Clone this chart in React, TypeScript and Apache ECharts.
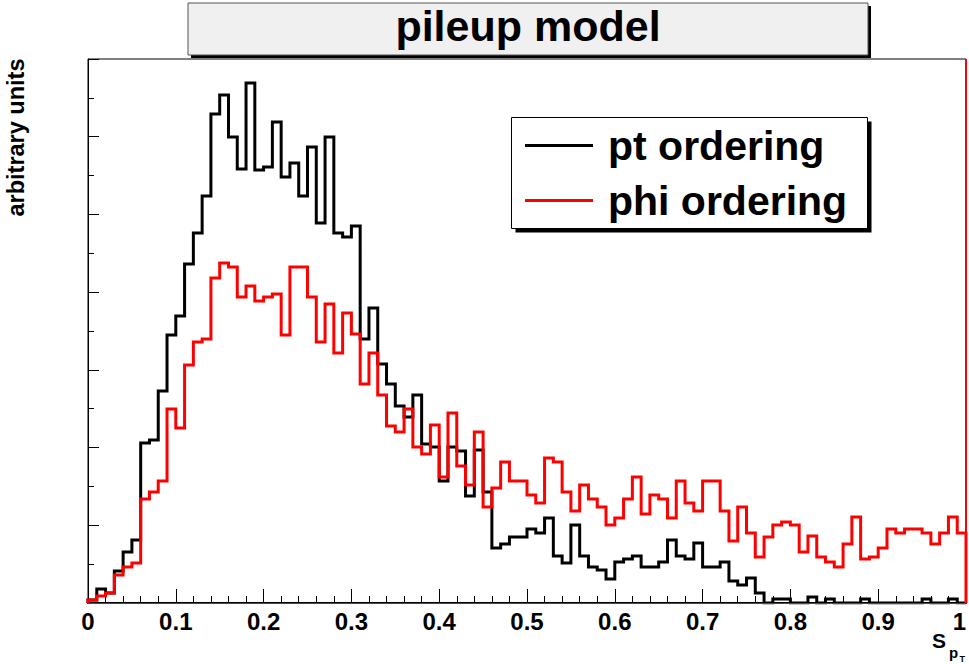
import React, { useEffect, useRef } from "react";
import * as echarts from "echarts";

// Histogram: 100 bins of width 0.01 on [0, 1]; heights in arbitrary units
const BIN_WIDTH = 0.01;
const X_MIN = 0;
const X_MAX = 1;
const Y_MAX = 544;

const seriesNames = ["pt ordering", "phi ordering"];

const ptOrdering = [
  3, 14, 10, 32, 51, 63, 160, 163, 212, 268,
  287, 339, 370, 407, 489, 508, 466, 434, 520, 433,
  436, 481, 426, 440, 407, 456, 380, 466, 370, 366,
  377, 264, 295, 239, 219, 197, 186, 208, 159, 156,
  122, 156, 152, 107, 153, 111, 55, 59, 66, 66,
  74, 70, 85, 47, 40, 78, 47, 36, 33, 24,
  41, 44, 47, 36, 36, 41, 63, 47, 44, 60,
  36, 36, 41, 22, 18, 25, 10, 0, 4, 4,
  0, 0, 6, 0, 4, 0, 0, 0, 4, 0,
  0, 0, 0, 0, 0, 4, 0, 0, 4, 0,
];

const phiOrdering = [
  3, 7, 10, 28, 36, 40, 104, 111, 122, 194,
  175, 238, 261, 264, 325, 340, 336, 306, 317, 302,
  306, 309, 268, 336, 336, 306, 261, 299, 250, 290,
  269, 219, 250, 208, 177, 171, 194, 156, 149, 178,
  126, 190, 137, 118, 171, 96, 115, 141, 122, 122,
  108, 100, 145, 141, 111, 92, 118, 104, 96, 78,
  85, 104, 126, 89, 108, 104, 85, 122, 100, 92,
  122, 122, 92, 62, 96, 70, 46, 66, 78, 81,
  78, 51, 67, 46, 41, 36, 59, 86, 44, 46,
  55, 74, 70, 74, 74, 70, 59, 70, 86, 70,
];

const FONT = "'Liberation Sans', Arial, Helvetica, sans-serif";

function histPoints(values: number[]): [number, number][] {
  const pts: [number, number][] = [[X_MIN, 0]];
  values.forEach((v, i) => {
    pts.push([+(X_MIN + i * BIN_WIDTH).toFixed(4), v]);
  });
  pts.push([X_MAX, values[values.length - 1]]);
  pts.push([X_MAX, 0]);
  return pts;
}

export default function App() {
  const ref = useRef<HTMLDivElement>(null);

  useEffect(() => {
    document.body.style.margin = "0";
    if (!ref.current) return;
    const chart = echarts.init(ref.current, undefined, { renderer: "svg" });

    const option: any = {
      animation: false,
      backgroundColor: "#ffffff",
      grid: {
        left: 88,
        right: 3,
        top: 59,
        bottom: 61,
        show: true,
        borderColor: "#000",
        borderWidth: 1,
        backgroundColor: "transparent",
        containLabel: false,
        outerBoundsMode: "none",
      },
      legend: {
        data: seriesNames,
        orient: "vertical",
        left: 525,
        top: 125,
        padding: 0,
        itemWidth: 68,
        itemHeight: 3,
        itemGap: 14,
        icon: "rect",
        selectedMode: false,
        textStyle: {
          fontFamily: FONT,
          fontWeight: "bold",
          fontSize: 41,
          color: "#000",
          padding: [0, 0, 0, 10],
        },
      },
      xAxis: {
        type: "value",
        min: X_MIN,
        max: X_MAX,
        interval: 0.1,
        axisLine: { show: true, lineStyle: { color: "#000", width: 2 } },
        axisTick: { show: true, inside: true, length: 14, lineStyle: { color: "#000", width: 1 } },
        minorTick: { show: true, splitNumber: 5, length: 7, lineStyle: { color: "#000", width: 1 } },
        splitLine: { show: false },
        minorSplitLine: { show: false },
        axisLabel: {
          show: true,
          margin: 6,
          alignMaxLabel: "right",
          fontFamily: FONT,
          fontWeight: "bold",
          fontSize: 24,
          color: "#000",
          formatter: (v: number) => String(+v.toFixed(1)),
        },
      },
      yAxis: {
        type: "value",
        min: 0,
        max: Y_MAX,
        interval: Y_MAX / 7,
        axisLine: { show: true, lineStyle: { color: "#000", width: 1 } },
        axisTick: { show: true, inside: true, length: 11, lineStyle: { color: "#000", width: 1 } },
        minorTick: { show: true, splitNumber: 2, length: 6, lineStyle: { color: "#000", width: 1 } },
        splitLine: { show: false },
        axisLabel: { show: false },
      },
      series: [
        {
          name: seriesNames[0],
          type: "line",
          step: "end",
          showSymbol: false,
          symbol: "none",
          data: histPoints(ptOrdering),
          itemStyle: { color: "#000000" },
          lineStyle: { color: "#000000", width: 3, join: "miter" },
          z: 3,
        },
        {
          name: seriesNames[1],
          type: "line",
          step: "end",
          showSymbol: false,
          symbol: "none",
          data: histPoints(phiOrdering),
          itemStyle: { color: "#ff0000" },
          lineStyle: { color: "#ff0000", width: 3, join: "miter" },
          z: 4,
          markLine: {
            silent: true,
            symbol: "none",
            label: { show: false },
            data: [
              { yAxis: 0, lineStyle: { color: "#ff0000", width: 1, type: "solid" } },
              { xAxis: X_MAX, lineStyle: { color: "#ff0000", width: 2, type: "solid" } },
            ],
          },
        },
      ],
      graphic: [
        // title box
        { type: "rect", z: 10, shape: { x: 191, y: 6, width: 680, height: 52 }, style: { fill: "#000" } },
        { type: "rect", z: 11, shape: { x: 188, y: 3, width: 680, height: 52 }, style: { fill: "#f0f0f0", stroke: "#555", lineWidth: 1 } },
        {
          type: "text", z: 12, x: 528, y: 26,
          style: { text: "pileup model", font: `bold 43px ${FONT}`, fill: "#000", textAlign: "center", textVerticalAlign: "middle" },
        },
        // legend box
        { type: "rect", z: 1, shape: { x: 515.5, y: 121.5, width: 356, height: 111 }, style: { fill: "#000" } },
        { type: "rect", z: 2, shape: { x: 511.5, y: 117.5, width: 356, height: 111 }, style: { fill: "#fff", stroke: "#000", lineWidth: 1 } },
        // y axis title
        {
          type: "text", z: 12, x: 16, y: 137.5, rotation: Math.PI / 2,
          style: { text: "arbitrary units", font: `bold 23.5px ${FONT}`, fill: "#000", textAlign: "center", textVerticalAlign: "middle" },
        },
        // x axis title S_{p_T}
        {
          type: "text", z: 12, x: 932, y: 640,
          style: { text: "S", font: `bold 21px ${FONT}`, fill: "#000", textAlign: "left", textVerticalAlign: "middle" },
        },
        {
          type: "text", z: 12, x: 949, y: 652.6,
          style: { text: "p", font: `bold 15px ${FONT}`, fill: "#000", textAlign: "left", textVerticalAlign: "middle" },
        },
        {
          type: "text", z: 12, x: 959.5, y: 659,
          style: { text: "T", font: `bold 9px ${FONT}`, fill: "#000", textAlign: "left", textVerticalAlign: "middle" },
        },
      ],
    };

    chart.setOption(option);
    return () => chart.dispose();
  }, []);

  return (
    <div
      ref={ref}
      style={{ position: "fixed", left: 0, top: 0, width: 969, height: 664, background: "#fff" }}
    />
  );
}
